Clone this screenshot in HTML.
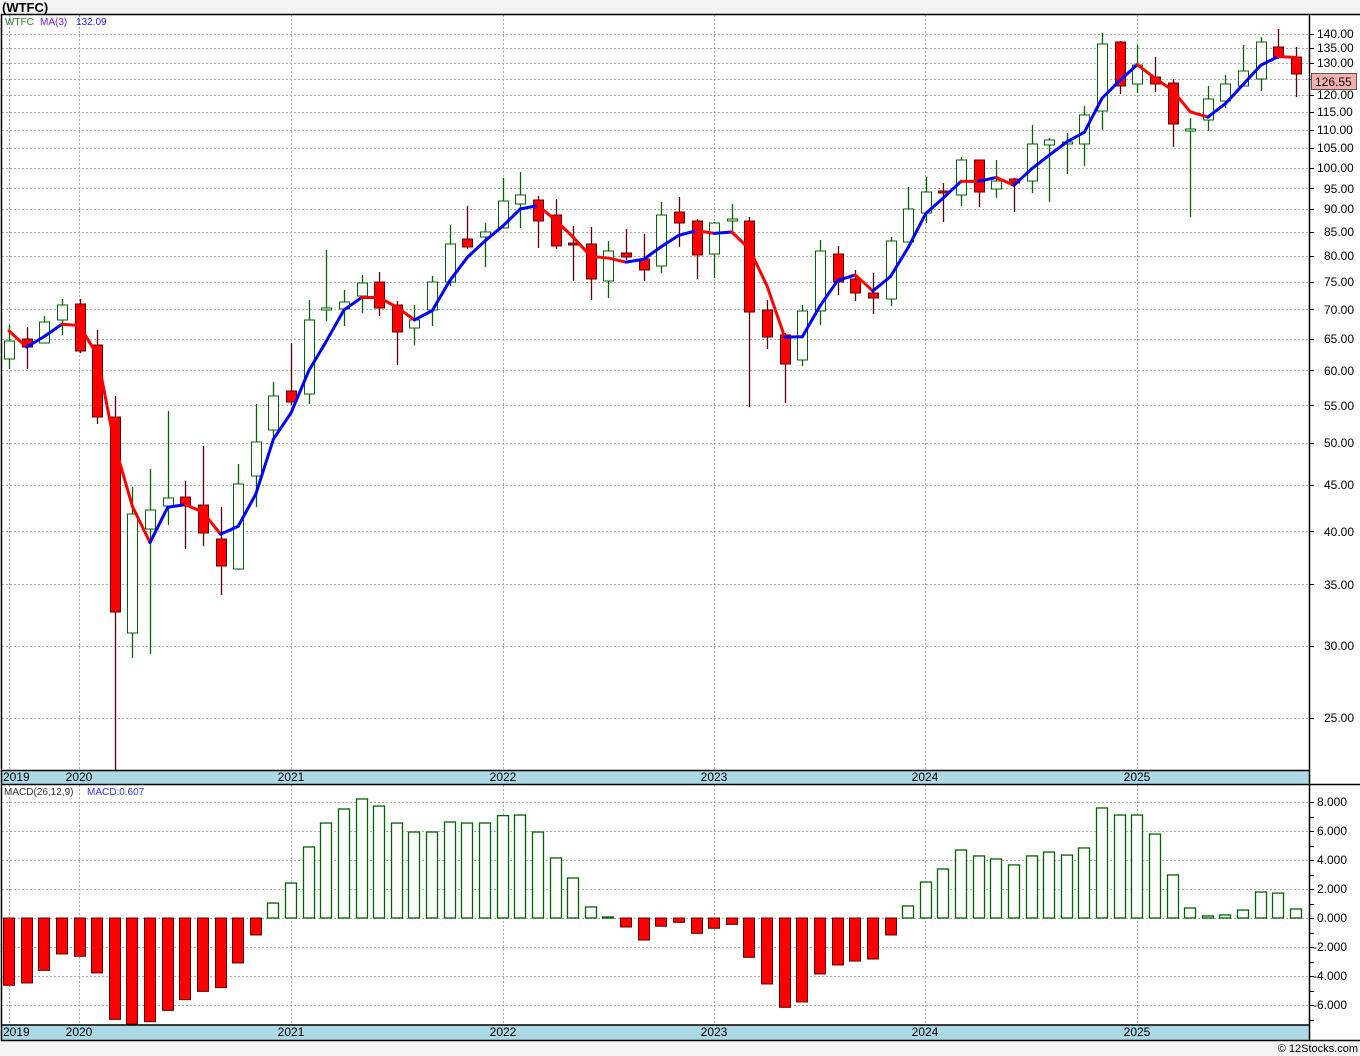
<!DOCTYPE html>
<html><head><meta charset="utf-8"><style>
html,body{margin:0;padding:0;background:#f4f4f4;}
svg{display:block;font-family:"Liberation Sans",sans-serif;}
</style></head><body>
<svg id="s" width="1360" height="1056" xmlns="http://www.w3.org/2000/svg">
<rect x="0" y="0" width="1360" height="1056" fill="#f4f4f4"/>
<rect x="1" y="14" width="1359" height="1027" fill="#fff"/>
<g id="grid"></g>
<rect x="1" y="770" width="1308" height="14" fill="#add8e6"/>
<rect x="1" y="1025" width="1308" height="15" fill="#add8e6"/>
<g id="plot"></g>
<g stroke="#000" stroke-width="1.5" fill="none">
<line x1="1" y1="14.5" x2="1360" y2="14.5"/>
<line x1="1.5" y1="14" x2="1.5" y2="1041"/>
<line x1="1309.5" y1="14" x2="1309.5" y2="1041"/>
<line x1="1" y1="770.5" x2="1309" y2="770.5"/>
<line x1="1" y1="784.5" x2="1360" y2="784.5"/>
<line x1="1" y1="1025" x2="1309" y2="1025"/>
<line x1="1" y1="1040.5" x2="1360" y2="1040.5"/>
</g>
<text x="2" y="12" font-size="13" font-weight="bold" fill="#000">(WTFC)</text>
<text x="5" y="25" font-size="10" fill="#2e7d32">WTFC</text>
<text x="40" y="25" font-size="10" fill="#6a1bd8">MA(3)</text>
<text x="76" y="25" font-size="10" fill="#1a1aff">132.09</text>
<text x="4" y="795" font-size="10" fill="#333">MACD(26,12,9)</text>
<text x="87" y="795" font-size="10" fill="#3333ff">MACD:0.607</text>
<g font-size="12" fill="#000">
<text x="3" y="781">2019</text>
<text x="79" y="781" text-anchor="middle">2020</text>
<text x="291" y="781" text-anchor="middle">2021</text>
<text x="503" y="781" text-anchor="middle">2022</text>
<text x="714" y="781" text-anchor="middle">2023</text>
<text x="925" y="781" text-anchor="middle">2024</text>
<text x="1137" y="781" text-anchor="middle">2025</text>
<text x="3" y="1036">2019</text>
<text x="79" y="1036" text-anchor="middle">2020</text>
<text x="291" y="1036" text-anchor="middle">2021</text>
<text x="503" y="1036" text-anchor="middle">2022</text>
<text x="714" y="1036" text-anchor="middle">2023</text>
<text x="925" y="1036" text-anchor="middle">2024</text>
<text x="1137" y="1036" text-anchor="middle">2025</text>
</g>
<g font-size="12" fill="#000">
<text x="1317" y="38">140.00</text>
<text x="1317" y="52">135.00</text>
<text x="1317" y="67">130.00</text>
<text x="1317" y="99">120.00</text>
<text x="1317" y="116">115.00</text>
<text x="1317" y="134">110.00</text>
<text x="1317" y="152">105.00</text>
<text x="1317" y="172">100.00</text>
<text x="1324" y="193">95.00</text>
<text x="1324" y="213">90.00</text>
<text x="1324" y="236">85.00</text>
<text x="1324" y="260">80.00</text>
<text x="1324" y="286">75.00</text>
<text x="1324" y="314">70.00</text>
<text x="1324" y="343">65.00</text>
<text x="1324" y="375">60.00</text>
<text x="1324" y="410">55.00</text>
<text x="1324" y="447">50.00</text>
<text x="1324" y="489">45.00</text>
<text x="1324" y="536">40.00</text>
<text x="1324" y="589">35.00</text>
<text x="1324" y="650">30.00</text>
<text x="1324" y="722">25.00</text>
<text x="1317" y="806">8.000</text>
<text x="1317" y="835">6.000</text>
<text x="1317" y="864">4.000</text>
<text x="1317" y="893">2.000</text>
<text x="1317" y="922">0.000</text>
<text x="1313" y="951">-2.000</text>
<text x="1313" y="980">-4.000</text>
<text x="1313" y="1009">-6.000</text>
</g>
<rect x="1311.5" y="73.5" width="45" height="16" fill="#f4b0ab" stroke="#555"/>
<text x="1315" y="86" font-size="12" fill="#000">126.55</text>
<text x="1358" y="1052" font-size="11" fill="#000" text-anchor="end">© 12Stocks.com</text>
</svg>
<script>
var NS="http://www.w3.org/2000/svg";
function el(p,t,a){var e=document.createElementNS(NS,t);for(var k in a)e.setAttribute(k,a[k]);p.appendChild(e);return e;}
var grid=document.getElementById('grid'),plot=document.getElementById('plot');
function yP(p){return 34-397*Math.log(p/140);}
function pY(y){return 140*Math.exp((34-y)/397);}
var dash={stroke:"#aaa","stroke-width":1,"stroke-dasharray":"2,2"};
// horizontal price grid
[140,135,130,125,120,115,110,105,100,95,90,85,80,75,70,65,60,55,50,45,40,35,30,25].forEach(function(p){
 var y=Math.round(yP(p))+0.5;
 el(grid,'line',Object.assign({x1:2,x2:1309,y1:y,y2:y},dash));
 el(grid,'line',{x1:1309,x2:1314,y1:y,y2:y,stroke:"#000"});
});
for(var v=-8;v<=8;v+=1){var y=Math.round(918-14.5*v)+0.5;
 if(v%2==0&&v>-8) el(grid,'line',Object.assign({x1:2,x2:1309,y1:y,y2:y},dash));
 if(y>786&&y<1024) el(grid,'line',{x1:1309,x2:1314,y1:y,y2:y,stroke:"#000"});}
[9,79,291,503,714,925,1137].forEach(function(x){
 el(grid,'line',Object.assign({x1:x+0.5,x2:x+0.5,y1:15,y2:770},dash));
 el(grid,'line',Object.assign({x1:x+0.5,x2:x+0.5,y1:785,y2:1025},dash));
});
var D=[[341,359,325,369,'g'],[339,347,327,369,'r'],[322,343,316,343,'g'],[305,320,299,335,'g'],[304,351,299,353,'r'],[345,417,330,424,'r'],[417,612,396,770,'r'],[514,633,487,658,'g'],[510,529,469,654,'g'],[498,506,411,525,'g'],[497,506,481,549,'r'],[505,533,446,546,'r'],[539,566,507,595,'r'],[484,569,464,570,'g'],[442,476,404,507,'g'],[396,430,382,437,'g'],[391,402,343,405,'r'],[320,394,300,404,'g'],[308,310,250,321,'g'],[302,309,290,326,'g'],[283,296,275,313,'g'],[282,308,272,316,'r'],[305,332,301,365,'r'],[320,328,305,345,'g'],[282,310,276,326,'g'],[244,282,225,286,'g'],[239,247,206,249,'r'],[232,237,223,267,'g'],[201,228,178,228,'g'],[195,204,172,228,'g'],[200,221,196,248,'r'],[215,246,199,249,'r'],[243,245,226,281,'r'],[244,279,227,300,'r'],[251,281,241,298,'g'],[253,257,229,260,'r'],[259,270,234,281,'r'],[215,266,202,273,'g'],[212,223,197,247,'r'],[221,255,219,279,'r'],[223,254,222,278,'g'],[219,221,204,232,'g'],[221,312,217,407,'r'],[310,337,300,349,'r'],[335,364,333,403,'r'],[311,360,305,366,'g'],[251,311,240,325,'g'],[254,282,246,295,'r'],[279,293,270,301,'r'],[293,298,273,314,'r'],[241,299,237,306,'g'],[209,242,187,242,'g'],[192,213,177,223,'g'],[191,193,183,222,'r'],[160,195,157,206,'g'],[160,192,160,207,'r'],[181,189,160,198,'g'],[179,183,178,212,'r'],[144,181,125,193,'g'],[140,145,138,202,'g'],[142,144,133,174,'g'],[115,144,106,166,'g'],[44,111,33,130,'g'],[42,86,41,94,'r'],[65,84,45,93,'g'],[77,84,57,92,'r'],[83,124,79,147,'r'],[129,131,118,217,'g'],[99,120,86,131,'g'],[84,101,75,108,'g'],[71,86,45,86,'g'],[42,79,37,91,'g'],[47,57,29,59,'r'],[57,74,47,97,'r']];
var M=[-4.64,-4.48,-3.61,-2.48,-2.64,-3.79,-6.99,-7.38,-7.15,-6.37,-5.63,-5.06,-4.80,-3.10,-1.17,1.03,2.41,4.90,6.55,7.52,8.21,7.72,6.55,5.93,5.93,6.62,6.55,6.55,7.06,7.10,5.93,4.14,2.76,0.76,0.07,-0.62,-1.52,-0.57,-0.30,-1.06,-0.71,-0.44,-2.71,-4.55,-6.16,-5.79,-3.86,-3.24,-2.97,-2.83,-1.17,0.83,2.48,3.38,4.69,4.28,4.07,3.66,4.28,4.55,4.34,4.83,7.59,7.10,7.10,5.79,2.97,0.69,0.14,0.21,0.55,1.79,1.72,0.62];
function X(i){return 9+17.63*i;}
D.forEach(function(d,i){
 var x=Math.round(X(i))+0.5,g=d[4]=='g',c=g?"#006400":"#600000";
 el(plot,'line',{x1:x,x2:x,y1:d[2],y2:d[3],stroke:c,"stroke-width":1.3});
 var h=Math.max(d[1]-d[0],1.5);
 el(plot,'rect',{x:x-5,y:d[0],width:10,height:h,fill:g?"#fff":"#ff0000",stroke:c,"stroke-width":1});
});
// MA
var cl=D.map(function(d){return pY(d[4]=='g'?d[0]:d[1]);});
var ma=[331,347];
for(var i=2;i<D.length;i++){ma.push(yP((cl[i]+cl[i-1]+cl[i-2])/3));}
for(var i=0;i<ma.length-1;i++){
 el(plot,'line',{x1:X(i),y1:ma[i],x2:X(i+1),y2:ma[i+1],stroke:ma[i+1]<ma[i]?"#0000ff":"#ff0000","stroke-width":3,"stroke-linecap":"round"});
}
// MACD
M.forEach(function(v,i){
 var x=Math.round(X(i)),y=918-14.5*v,t=Math.min(y,918),h=Math.max(Math.abs(918-y),1);
 if(v<0) el(plot,'rect',{x:x-5.5,y:918,width:11,height:Math.min(h,106),fill:"#ff0000",stroke:"#600000","stroke-width":1});
 else el(plot,'rect',{x:x-5.5,y:t,width:11,height:h,fill:"#fff",stroke:"#006400","stroke-width":1.3});
});
</script>
</body></html>
